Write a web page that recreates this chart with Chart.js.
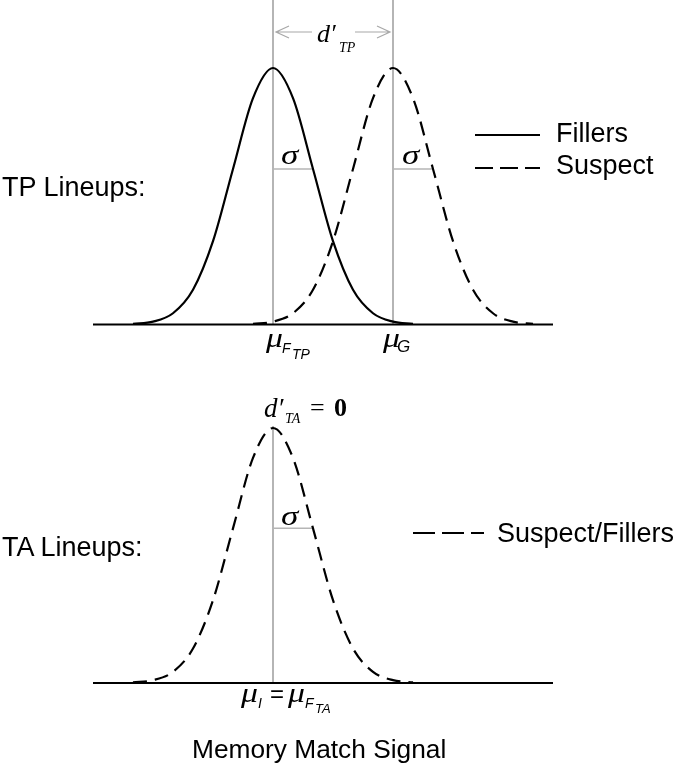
<!DOCTYPE html>
<html>
<head>
<meta charset="utf-8">
<script src="https://cdn.jsdelivr.net/npm/chart.js@4.4.1/dist/chart.umd.min.js"></script>
<style>
    body { margin: 0; background: #fff; }
    #fig { position: relative; width: 685px; height: 765px; overflow: hidden; color: #000;
           font-family: "Liberation Sans", Arial, sans-serif; }
    #fig canvas { position: absolute; left: 0; }
    .t { position: absolute; line-height: 1; white-space: nowrap; }
    .m { font-family: "Liberation Serif", "Times New Roman", serif; font-style: italic; }
    .s { font-style: italic; }
    .w { transform: scaleX(1.25); transform-origin: left top; }
    svg { position: absolute; left: 0; top: 0; }
</style>
</head>
<body>
<div id="fig">
    <canvas id="tpChart" width="685" height="370" style="top:0"></canvas>
    <canvas id="taChart" width="685" height="385" style="top:380px"></canvas>

    <svg width="685" height="765">
        <line x1="475" y1="135" x2="540" y2="135" stroke="#000" stroke-width="2"/>
        <line x1="475" y1="168" x2="540" y2="168" stroke="#000" stroke-width="2" stroke-dasharray="18 7"/>
        <line x1="413" y1="533" x2="484" y2="533" stroke="#000" stroke-width="2" stroke-dasharray="22 7"/>
    </svg>

    <!-- plain labels -->
    <div class="t" style="left:2px;top:174px;font-size:27px">TP Lineups:</div>
    <div class="t" style="left:2px;top:534px;font-size:27px">TA Lineups:</div>
    <div class="t" style="left:556px;top:120px;font-size:27px">Fillers</div>
    <div class="t" style="left:556px;top:152px;font-size:27px">Suspect</div>
    <div class="t" style="left:497px;top:520px;font-size:27px">Suspect/Fillers</div>
    <div class="t" style="left:192px;top:736px;font-size:26.3px">Memory Match Signal</div>

    <!-- top panel math -->
    <div class="t m" style="left:317px;top:21px;font-size:26px">d′</div>
    <div class="t m" style="left:339px;top:41px;font-size:14px">TP</div>
    <div class="t m w" style="left:281px;top:141px;font-size:28px">σ</div>
    <div class="t m w" style="left:402px;top:141px;font-size:28px">σ</div>
    <div class="t m w" style="left:266px;top:325px;font-size:27px">μ</div>
    <div class="t s" style="left:282px;top:341px;font-size:14px">F</div>
    <div class="t s" style="left:292px;top:347px;font-size:14px">TP</div>
    <div class="t m w" style="left:383px;top:325px;font-size:27px">μ</div>
    <div class="t s" style="left:397px;top:338px;font-size:17px">G</div>

    <!-- bottom panel math -->
    <div class="t m" style="left:264px;top:395px;font-size:27px">d′</div>
    <div class="t m" style="left:285px;top:412px;font-size:14px">TA</div>
    <div class="t m" style="left:310px;top:395px;font-size:26px;font-style:normal">=</div>
    <div class="t m" style="left:334px;top:395px;font-size:26px;font-style:normal;font-weight:bold">0</div>
    <div class="t m w" style="left:281px;top:502px;font-size:28px">σ</div>
    <div class="t m w" style="left:241px;top:680px;font-size:27px">μ</div>
    <div class="t s" style="left:258px;top:696px;font-size:14px">I</div>
    <div class="t" style="left:270px;top:682px;font-size:24px">=</div>
    <div class="t m w" style="left:288px;top:680px;font-size:27px">μ</div>
    <div class="t s" style="left:305px;top:696px;font-size:14px">F</div>
    <div class="t s" style="left:315px;top:702px;font-size:13px">TA</div>
</div>

<script>
// curve shape, read in steps of one half sigma (peak = 1)
const sigmaSteps = [-3.5, -3, -2.5, -2, -1.5, -1, -0.5, 0, 0.5, 1, 1.5, 2, 2.5, 3, 3.5];
const signalHeight = [0.0022, 0.0111, 0.0439, 0.1353, 0.3247, 0.6065, 0.8825, 1,
                      0.8825, 0.6065, 0.3247, 0.1353, 0.0439, 0.0111, 0.0022];
const muFillersTP = 0;
const muSuspectTP = 3;
const muTA = 0;
const sigmaLevel = 0.6065;
const signalRange = [-4.5, 7];

function curve(mu) {
    return sigmaSteps.map((s, i) => ({ x: mu + s, y: signalHeight[i] }));
}

function lineSet(label, data, dashed) {
    return {
        label: label,
        data: data,
        borderColor: '#000',
        borderWidth: 2.2,
        borderDash: dashed ? [14, 8] : [],
        cubicInterpolationMode: 'monotone',
        pointRadius: 0,
        fill: false,
        clip: false
    };
}

const baseline = {
    label: 'axis',
    data: [{ x: signalRange[0], y: 0 }, { x: signalRange[1], y: 0 }],
    borderColor: '#000',
    borderWidth: 2,
    pointRadius: 0,
    clip: false
};

// gray mean lines, sigma marks and the d' arrow
const guidePlugin = {
    id: 'guides',
    beforeDatasetsDraw(chart, args, opts) {
        const { ctx, chartArea, scales: { x, y } } = chart;
        ctx.save();
        ctx.strokeStyle = '#b5b5b5';
        ctx.lineWidth = 2;
        const py = y.getPixelForValue(sigmaLevel);
        opts.means.forEach(m => {
            const px = Math.round(x.getPixelForValue(m));
            ctx.beginPath();
            ctx.moveTo(px, opts.fromTop ? 0 : y.getPixelForValue(1) - 2);
            ctx.lineTo(px, chartArea.bottom);
            ctx.stroke();
        });
        ctx.lineWidth = 1.5;
        opts.means.forEach(m => {
            ctx.beginPath();
            ctx.moveTo(x.getPixelForValue(m), py);
            ctx.lineTo(x.getPixelForValue(m + 1), py);
            ctx.stroke();
        });
        if (opts.arrowY) {
            const a = Math.round(x.getPixelForValue(opts.means[0])) + 3;
            const b = Math.round(x.getPixelForValue(opts.means[1])) - 3;
            const mid = (a + b) / 2;
            const ay = opts.arrowY;
            ctx.strokeStyle = '#a8a8a8';
            ctx.lineWidth = 1.2;
            ctx.beginPath();
            ctx.moveTo(a, ay); ctx.lineTo(mid - 21, ay);
            ctx.moveTo(mid + 22, ay); ctx.lineTo(b, ay);
            ctx.moveTo(a + 13, ay - 6); ctx.lineTo(a, ay); ctx.lineTo(a + 13, ay + 6);
            ctx.moveTo(b - 13, ay - 6); ctx.lineTo(b, ay); ctx.lineTo(b - 13, ay + 6);
            ctx.stroke();
        }
        ctx.restore();
    }
};

function makeChart(id, datasets, guides, pad) {
    return new Chart(document.getElementById(id), {
        type: 'line',
        data: { datasets: datasets },
        options: {
            responsive: false,
            animation: false,
            layout: { padding: pad },
            plugins: {
                legend: { display: false },
                tooltip: { enabled: false },
                guides: guides
            },
            scales: {
                x: { type: 'linear', display: false, min: signalRange[0], max: signalRange[1] },
                y: { display: false, min: 0, max: 1 }
            }
        },
        plugins: [guidePlugin]
    });
}

makeChart('tpChart',
    [lineSet('Fillers', curve(muFillersTP), false), lineSet('Suspect', curve(muSuspectTP), true), baseline],
    { means: [muFillersTP, muSuspectTP], fromTop: true, arrowY: 32 },
    { left: 93, right: 132, top: 68, bottom: 45.5 });

makeChart('taChart',
    [lineSet('Suspect/Fillers', curve(muTA), true), baseline],
    { means: [muTA], fromTop: false },
    { left: 93, right: 132, top: 48, bottom: 82 });
</script>
</body>
</html>
